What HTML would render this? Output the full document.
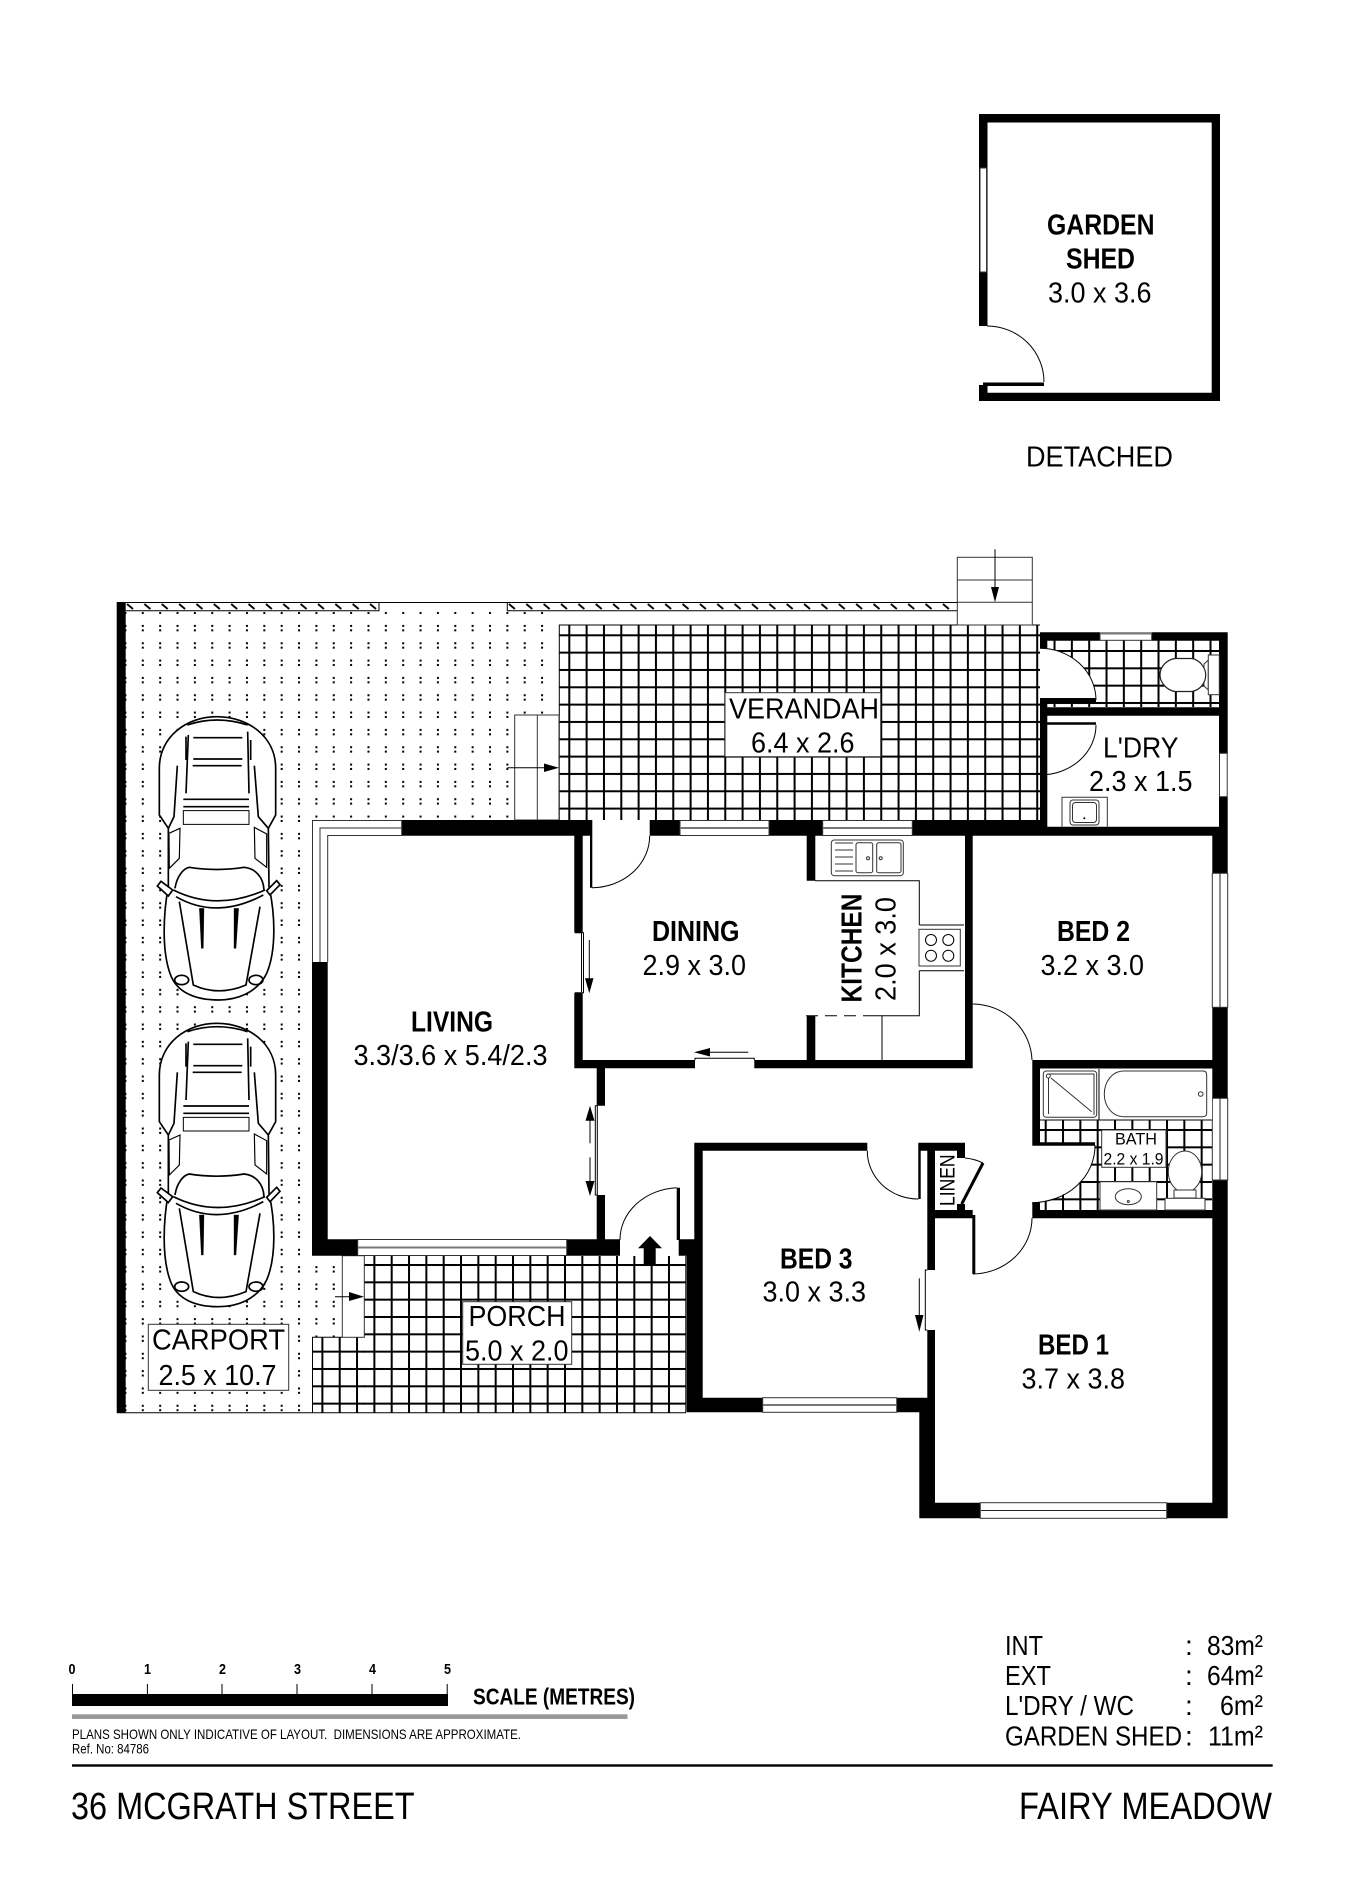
<!DOCTYPE html>
<html><head><meta charset="utf-8"><title>36 McGrath Street floor plan</title>
<style>
html,body{margin:0;padding:0;background:#fff}
svg{display:block}
text{font-family:"Liberation Sans",sans-serif;fill:#000}
.r{font-size:29px}.b{font-size:29px;font-weight:bold}
.t{fill:none;stroke:#000;stroke-width:1}
.g{fill:none;stroke:#333;stroke-width:1}
.w{fill:#fff;stroke:#333;stroke-width:1}
.car *{stroke:#000;stroke-width:5;fill:none}
</style></head><body>
<svg xmlns="http://www.w3.org/2000/svg" width="1345" height="1903" viewBox="0 0 1345 1903">
<defs>
<pattern id="dots" patternUnits="userSpaceOnUse" x="141.8" y="607.6" width="17.36" height="17.33">
<rect x="0" y="0" width="2" height="2" fill="#000"/><rect x="0" y="4.4" width="2" height="2" fill="#000"/></pattern>
<pattern id="hatch" patternUnits="userSpaceOnUse" x="126" y="602" width="17.36" height="9">
<path d="M1 2L7 7" stroke="#000" stroke-width="1.8" fill="none"/></pattern>
<pattern id="tile" patternUnits="userSpaceOnUse" x="568.3" y="634.3" width="17.33" height="17.33">
<rect width="2" height="17.33" fill="#000"/><rect width="17.33" height="2" fill="#000"/></pattern>
<pattern id="tileW" patternUnits="userSpaceOnUse" x="568.3" y="650" width="17.33" height="17.33">
<rect width="2" height="17.33" fill="#000"/><rect width="17.33" height="2" fill="#000"/></pattern>
<pattern id="tileP" patternUnits="userSpaceOnUse" x="564" y="1264" width="17.33" height="17.33">
<rect width="2" height="17.33" fill="#000"/><rect width="17.33" height="2" fill="#000"/></pattern>
<pattern id="tileB" patternUnits="userSpaceOnUse" x="1044.7" y="1129" width="17.33" height="17.33">
<rect width="2" height="17.33" fill="#000"/><rect width="17.33" height="2" fill="#000"/></pattern>
<g id="car" class="car" transform="translate(100,540) scale(.33333)">
<path fill="#fff" style="fill:#fff" d="M205 865L178 825V685C178 590 260 530 350 530C445 530 527 590 527 685V825L505 865L507 1040C525 1120 530 1230 500 1300C470 1360 410 1380 355 1380C290 1380 230 1360 210 1300C185 1230 190 1120 205 1040Z"/>
<path d="M262 555Q350 525 443 555"/>
<path d="M280 593H427M280 657H427M278 677H425"/>
<path d="M265 585L258 760M443 575L447 760M258 590V660M452 600V660" />
<path d="M232 677L222 830L205 865M463 677L475 830L505 865"/>
<path d="M250 778H447M250 800H447"/>
<path style="stroke-width:3" d="M250 812H447V853H250Z"/>
<path style="stroke-width:3.5" d="M207 880L240 865L238 955L208 985ZM463 862L500 882V982L465 955Z"/>
<path d="M225 1045C230 1010 250 985 268 982Q350 995 432 982C465 985 490 1010 492 1050"/>
<path d="M220 1050Q350 1115 495 1050M228 1070Q350 1140 490 1065"/>
<path style="fill:#fff" d="M172 1038L183 1024L218 1050L205 1068ZM510 1065L500 1052L530 1022L540 1034Z"/>
<path d="M238 1085L280 1335Q355 1370 438 1335L480 1100"/>
<path style="fill:#000;stroke-width:1" d="M298 1105H312L310 1225H304ZM402 1105H416L408 1225H402Z"/>
<ellipse cx="245" cy="1320" rx="21" ry="14"/><ellipse cx="468" cy="1320" rx="21" ry="14"/>
</g>
</defs>
<rect width="1345" height="1903" fill="#fff"/>

<!-- carport dots -->
<rect x="124" y="611" width="182" height="802" fill="url(#dots)"/>
<rect x="306" y="611" width="241" height="209" fill="url(#dots)"/>
<rect x="312" y="1256" width="31" height="81" fill="url(#dots)"/>
<rect x="126" y="602" width="253" height="9" fill="url(#hatch)"/>
<rect x="507" y="602" width="450" height="9" fill="url(#hatch)"/>
<path class="t" d="M117 602.5H957M379 602.5V610.7H126M507.3 602.5V610.7H957"/>
<path class="t" d="M117 1412.7H686"/>

<!-- tiled areas -->
<rect x="559" y="625" width="481" height="195" fill="url(#tile)"/>
<path class="t" d="M559.3 820V625H1040"/>
<rect x="1047" y="640" width="172" height="67" fill="url(#tileW)"/>
<rect x="364" y="1256" width="322" height="157" fill="url(#tileP)"/>
<rect x="312" y="1337" width="53" height="76" fill="url(#tileP)"/>
<path class="t" d="M312.5 1413V1337.3H342"/>
<rect x="1040" y="1120" width="172" height="90" fill="url(#tileB)"/>

<!-- stairs -->
<rect x="514.7" y="715" width="44.3" height="105" class="w" fill="#fff"/>
<path class="g" d="M537.3 715V820"/>
<path class="t" d="M507.3 767.7H546"/><path d="M544 763.5L559 767.7L544 772Z"/>
<rect x="957.3" y="557.3" width="75" height="67.7" class="w"/>
<path class="g" d="M957.3 580H1032.3M957.3 602.3H1032.3"/>
<path class="t" d="M995 549.3V590"/><path d="M991 587H999L995 602.3Z"/>
<rect x="342.3" y="1255.7" width="22" height="81.6" class="w"/>
<path class="t" d="M335 1296.7H352"/><path d="M349 1292L364 1296.7L349 1301Z"/>

<!-- door swing clear areas -->
<path fill="#fff" d="M1040 700V648.3A56 52 0 0 1 1096 700Z"/>
<path fill="#fff" d="M1032 1145H1095A63 57 0 0 1 1032 1202Z"/>

<!-- walls -->
<path fill="#000" d="
M979 114H1220V401H979V385H987.5V392.7H1211.7V122.5H987.5V326H979Z
M983 382.5H1044V386H983Z
M116.7 602H125.7V1412.7H116.7Z
M312 962H327.7V1239.3H357.7V1255.7H312Z
M566.7 1239.3H620V1255.7H566.7Z
M596.7 1068H605V1105.7H596.7Z
M596.7 1195H605V1240H596.7Z
M676.7 1187.7H680V1240H676.7Z
M678.7 1239.3H694.3V1142.7H867.3V1150.7H702.7V1397.7H762.7V1412.3H686.3V1255.7H678.7Z
M401.7 820H590V835.7H401.7Z
M649.7 820H680V835.7H649.7Z
M769 820H822.7V835.7H769Z
M912.3 820H1040V826.7H1227.7V835.7H912.3Z
M590 820H592.3V887.7H590Z
M574.3 835H582.7V932.7H574.3Z
M574.3 992.7H582.7V1060H695V1068.3H574.3Z
M754.3 1060H965V835H972.7V1068.3H754.3Z
M806.7 835H815.3V880.7H806.7Z
M806.7 1015.7H815.3V1060H806.7Z
M1040 632.3H1100V640.7H1047.3V648.3H1040Z
M1151.7 632.3H1227.7V753.3H1219V640.7H1151.7Z
M1219 796.7H1227.7V835H1219Z
M1040 698H1096V702.3H1047.3V722.3H1096V724.7H1047.3V775H1047.3V835H1040V775H1040V725H1040Z
M1047 707.3H1220V715.7H1047Z
M1212.3 835H1227.7V873.3H1212.3Z
M1212.3 1007.3H1227.7V1098.3H1212.3Z
M1212.3 1180H1227.7V1518.3H1166.7V1502.7H1212.3Z
M1032.3 1060H1212.3V1068.5H1040V1142.3H1095V1145.7H1032.3Z
M1032.3 1202.7H1040V1210H1212.3V1218.3H1032.3Z
M919.3 1397.7H927.3V1330H935V1502.7H980.3V1518.3H919.3Z
M896.7 1397.7H927.3V1412.3H896.7Z
M927.3 1150H935V1270H927.3Z
M918.3 1142.7H965V1158H957V1150.7H920.7V1199H918.3Z
M957 1204H965V1211H957Z
M935 1210H972.7V1218.3H935Z
M972.3 1215H975.3V1274H972.3Z
"/>
<!-- linen door leaf -->
<path stroke="#000" stroke-width="3" fill="none" d="M961.7 1204L983 1163"/>

<!-- windows -->
<rect x="980" y="168" width="6.5" height="104" class="w"/>
<path fill="#fff" stroke="#333" d="M312.5 962V820.5H401.7V835.5H327.7V962"/>
<path fill="none" stroke="#555" stroke-width="1.2" d="M320 962V828H401.7"/>
<g class="w">
<rect x="357.7" y="1239.5" width="209" height="16"/>
<rect x="680" y="820.5" width="89" height="15"/>
<rect x="822.7" y="820.5" width="89.6" height="15"/>
<rect x="762.7" y="1397.7" width="134" height="14.6"/>
<rect x="980.3" y="1502.7" width="186.4" height="15.6"/>
<rect x="1212.3" y="873.3" width="15.4" height="134"/>
<rect x="1212.3" y="1098.3" width="15.4" height="81.7"/>
<rect x="1100" y="632.8" width="51.7" height="7.5"/>
<rect x="1219.5" y="753.3" width="7.7" height="43.4"/>
</g>
<path fill="none" stroke="#777" stroke-width="2" d="M358 1247.5H566M680 828H769M823 828H912M763 1405H896M1100 633.5H1151.7"/>
<path fill="none" stroke="#222" stroke-width="1" d="M981 1510.5H1166M1220 873V1007M1220 1098V1180"/>

<!-- door arcs -->
<g class="t">
<path d="M987 326A57 56 0 0 1 1044 382"/>
<path d="M649.7 835.7A58 52 0 0 1 592 887.7"/>
<path d="M1040 648.3A56 52 0 0 1 1096 700"/>
<path d="M1096 725A56 50 0 0 1 1040 775"/>
<path d="M972.7 1004A60 58 0 0 1 1032 1060"/>
<path d="M1095 1145A63 57 0 0 1 1032 1202.7"/>
<path d="M1032 1218A60 56 0 0 1 973 1274"/>
<path d="M867.3 1150.7A51 48 0 0 0 918.3 1199"/>
<path d="M965 1158Q975 1159 983 1163"/>
<path d="M676.7 1187.7A60 52 0 0 0 620 1240"/>
</g>

<!-- sliders and arrows -->
<path class="t" d="M575 932.7H583.5V992.7H575M581.5 933V992"/>
<path class="t" d="M589.3 940V980"/><path d="M585 978.3H593.5L589.3 993.3Z"/>
<path class="t" d="M695 1060V1058.3H754.3V1060"/>
<path class="t" d="M748.3 1052.3H708"/><path d="M710 1048L694 1052.3L710 1056.5Z"/>
<path class="t" d="M597 1105.7H595.3V1195H597"/><path class="t" d="M597.3 1105.7V1195"/>
<path class="t" d="M590 1119V1143.3M590 1157.3V1183"/>
<path d="M590 1105.7L594.5 1120.7H585.5ZM590 1196L594.5 1181H585.5Z"/>
<path class="t" d="M927.3 1270H925.3V1330H927.3"/>
<path class="t" d="M919.3 1278.3V1317"/><path d="M915 1315H923.5L919.3 1331.7Z"/>
<!-- entry arrow -->
<path d="M650 1236L662 1248.3H655.7V1265H643.7V1248.3H638Z"/>

<!-- kitchen fittings -->
<path class="t" d="M815 880.7H919.3V925M919.3 970.7V1015.7H875M964 925H919.3M964 970.7H919.3"/>
<path class="t" stroke-dasharray="12 7" d="M875 1015.7H806"/>
<path class="t" d="M882 1015.7V1060"/>
<rect x="919" y="929.3" width="41.3" height="36.7" class="w" stroke-width="1.5"/>
<g class="t"><circle cx="931" cy="940" r="5.5"/><circle cx="948.3" cy="940" r="5.5"/><circle cx="931" cy="955.7" r="5.5"/><circle cx="948.3" cy="955.7" r="5.5"/></g>
<rect x="831.3" y="840" width="72" height="35.7" rx="3" class="g"/>
<rect x="856" y="842.7" width="16.7" height="30" rx="2" class="g"/>
<rect x="876.7" y="842.7" width="24.3" height="30" rx="2" class="g"/>
<path class="g" d="M835 843H853M835 850H853M835 857H853M835 864H853M835 871H853"/>
<circle cx="868" cy="858.3" r="1.5" class="g"/><circle cx="880.7" cy="858.3" r="1.5" class="g"/>

<!-- laundry sink -->
<path class="g" d="M1062 826.7V797.3H1107.3V826.7"/>
<rect x="1070" y="800" width="29" height="25" rx="3" class="g" stroke-width="1.5"/>
<rect x="1072.5" y="802.5" width="24" height="20" rx="3" class="g"/>
<circle cx="1084.3" cy="818.3" r="1" fill="#000"/>

<!-- WC toilet -->
<path fill="#fff" stroke="#333" d="M1204 664L1208.3 660V690L1204 686Z"/>
<path fill="#fff" stroke="#222" stroke-width="1.2" d="M1175 658.5H1192C1200 660 1205.7 668 1205.7 675C1205.7 683 1200 690 1192 691.5H1175C1166 690 1160 682 1160 675C1160 667 1166 660 1175 658.5Z"/>
<rect x="1208.3" y="655" width="11" height="39.7" class="w"/>

<!-- bath -->
<path class="t" d="M1040 1120H1212M1099 1069V1120"/>
<rect x="1040.5" y="1068.5" width="58" height="51" fill="#fff"/>
<rect x="1099.5" y="1068.5" width="112.5" height="51" fill="#fff"/>
<rect x="1043.3" y="1071" width="53.4" height="46.3" rx="3" class="g" stroke-width="1.3"/>
<path class="g" d="M1049 1074H1094V1115M1048.5 1078V1114M1051 1078L1091.7 1111.7"/>
<circle cx="1048.3" cy="1076" r="2" class="g"/>
<path class="g" stroke-width="1.3" d="M1124 1071H1203Q1206.7 1071 1206.7 1075V1113Q1206.7 1116.7 1203 1116.7H1124C1112 1116.7 1104.3 1106 1104.3 1094C1104.3 1082 1112 1071 1124 1071Z"/>
<circle cx="1200.7" cy="1094" r="2.3" class="g"/>
<rect x="1100" y="1181.7" width="56.7" height="28.3" class="w"/>
<ellipse cx="1128.3" cy="1196.7" rx="13" ry="8" class="g"/>
<circle cx="1128.3" cy="1201.5" r="1" class="g"/>
<rect x="1165" y="1198.3" width="40" height="11.7" class="w"/>
<ellipse cx="1185" cy="1171.7" rx="16.7" ry="20.7" class="w"/>
<rect x="1174" y="1190" width="22" height="8" class="w"/>

<!-- cars -->
<use href="#car"/>
<use href="#car" transform="translate(0,306.67)"/>

<!-- label boxes -->
<rect x="148.3" y="1324.3" width="140.4" height="66" class="w"/>
<rect x="462.7" y="1301.7" width="109" height="62.6" class="w"/>
<rect x="725" y="692.7" width="155.7" height="64" class="w"/>
<rect x="1101.7" y="1130" width="64.3" height="37.3" class="w"/>

<!-- labels -->
<text class="b" x="1047" y="234.3" textLength="107.5" lengthAdjust="spacingAndGlyphs">GARDEN</text>
<text class="b" x="1066" y="268.3" textLength="69" lengthAdjust="spacingAndGlyphs">SHED</text>
<text class="r" x="1048" y="302.3" textLength="103.5" lengthAdjust="spacingAndGlyphs">3.0 x 3.6</text>
<text class="r" x="1026" y="466.7" textLength="147" lengthAdjust="spacingAndGlyphs">DETACHED</text>
<text class="r" x="729" y="718.7" textLength="150" lengthAdjust="spacingAndGlyphs">VERANDAH</text>
<text class="r" x="751" y="752.7" textLength="103.5" lengthAdjust="spacingAndGlyphs">6.4 x 2.6</text>
<text class="r" x="1103" y="757.3" textLength="75.5" lengthAdjust="spacingAndGlyphs">L'DRY</text>
<text class="r" x="1089" y="791" textLength="103.5" lengthAdjust="spacingAndGlyphs">2.3 x 1.5</text>
<text class="b" x="652" y="941" textLength="87.5" lengthAdjust="spacingAndGlyphs">DINING</text>
<text class="r" x="642.5" y="975" textLength="103.5" lengthAdjust="spacingAndGlyphs">2.9 x 3.0</text>
<text class="b" transform="translate(861.7,1002.5) rotate(-90)" x="0" y="0" textLength="109" lengthAdjust="spacingAndGlyphs">KITCHEN</text>
<text class="r" transform="translate(895.7,1001) rotate(-90)" x="0" y="0" textLength="104" lengthAdjust="spacingAndGlyphs">2.0 x 3.0</text>
<text class="b" x="1057" y="941" textLength="73" lengthAdjust="spacingAndGlyphs">BED 2</text>
<text class="r" x="1040.5" y="975" textLength="103.5" lengthAdjust="spacingAndGlyphs">3.2 x 3.0</text>
<text class="b" x="411" y="1031.7" textLength="82" lengthAdjust="spacingAndGlyphs">LIVING</text>
<text class="r" x="353.5" y="1065" textLength="194" lengthAdjust="spacingAndGlyphs">3.3/3.6 x 5.4/2.3</text>
<text class="b" x="780" y="1268.3" textLength="72.5" lengthAdjust="spacingAndGlyphs">BED 3</text>
<text class="r" x="762.5" y="1301.7" textLength="103.5" lengthAdjust="spacingAndGlyphs">3.0 x 3.3</text>
<text class="b" x="1038" y="1354.3" textLength="71" lengthAdjust="spacingAndGlyphs">BED 1</text>
<text class="r" x="1021.5" y="1388.3" textLength="103.5" lengthAdjust="spacingAndGlyphs">3.7 x 3.8</text>
<text class="r" x="152" y="1349.3" textLength="133" lengthAdjust="spacingAndGlyphs">CARPORT</text>
<text class="r" x="158.5" y="1385" textLength="118" lengthAdjust="spacingAndGlyphs">2.5 x 10.7</text>
<text class="r" x="468.5" y="1326" textLength="97" lengthAdjust="spacingAndGlyphs">PORCH</text>
<text class="r" x="465" y="1360.7" textLength="103.5" lengthAdjust="spacingAndGlyphs">5.0 x 2.0</text>
<text x="1115" y="1144.3" font-size="17" textLength="42" lengthAdjust="spacingAndGlyphs">BATH</text>
<text x="1103.5" y="1164.7" font-size="17" textLength="60" lengthAdjust="spacingAndGlyphs">2.2 x 1.9</text>
<text font-size="21" transform="translate(954.3,1206) rotate(-90)" x="0" y="0" textLength="51.5" lengthAdjust="spacingAndGlyphs">LINEN</text>

<!-- scale -->
<rect x="72" y="1694" width="376" height="12" fill="#000"/>
<path class="t" d="M72.5 1684V1694M147.4 1684V1694M222 1684V1694M297 1684V1694M372 1684V1694M447.2 1684V1694"/>
<g font-size="15" font-weight="bold">
<text x="68.5" y="1674" textLength="7" lengthAdjust="spacingAndGlyphs">0</text>
<text x="144" y="1674" textLength="7" lengthAdjust="spacingAndGlyphs">1</text>
<text x="219" y="1674" textLength="7" lengthAdjust="spacingAndGlyphs">2</text>
<text x="294" y="1674" textLength="7" lengthAdjust="spacingAndGlyphs">3</text>
<text x="369" y="1674" textLength="7" lengthAdjust="spacingAndGlyphs">4</text>
<text x="444" y="1674" textLength="7" lengthAdjust="spacingAndGlyphs">5</text>
</g>
<rect x="72" y="1714.3" width="555.5" height="4.7" fill="#999"/>
<text x="473" y="1704.3" font-size="23" font-weight="bold" textLength="162" lengthAdjust="spacingAndGlyphs">SCALE (METRES)</text>
<text x="72" y="1739" font-size="14" textLength="449" lengthAdjust="spacingAndGlyphs" xml:space="preserve">PLANS SHOWN ONLY INDICATIVE OF LAYOUT.  DIMENSIONS ARE APPROXIMATE.</text>
<text x="72" y="1753.3" font-size="14" textLength="77" lengthAdjust="spacingAndGlyphs">Ref. No: 84786</text>
<rect x="72" y="1764.3" width="1200.7" height="2.4" fill="#000"/>
<text x="71" y="1819" font-size="38" textLength="343.5" lengthAdjust="spacingAndGlyphs">36 MCGRATH STREET</text>
<text x="1019" y="1819" font-size="38" textLength="253" lengthAdjust="spacingAndGlyphs">FAIRY MEADOW</text>

<!-- areas -->
<g font-size="28">
<text x="1005" y="1655" textLength="38" lengthAdjust="spacingAndGlyphs">INT</text>
<text x="1005" y="1685" textLength="46" lengthAdjust="spacingAndGlyphs">EXT</text>
<text x="1005" y="1715" textLength="129" lengthAdjust="spacingAndGlyphs">L'DRY / WC</text>
<text x="1005" y="1745.7" textLength="177" lengthAdjust="spacingAndGlyphs">GARDEN SHED</text>
<text x="1185" y="1655">:</text><text x="1185" y="1685">:</text><text x="1185" y="1715">:</text><text x="1185" y="1745.7">:</text>
<text x="1207" y="1655" textLength="56" lengthAdjust="spacingAndGlyphs">83m²</text>
<text x="1207" y="1685" textLength="56" lengthAdjust="spacingAndGlyphs">64m²</text>
<text x="1220" y="1715" textLength="43" lengthAdjust="spacingAndGlyphs">6m²</text>
<text x="1208" y="1745.7" textLength="55" lengthAdjust="spacingAndGlyphs">11m²</text>
</g>
</svg>
</body></html>
